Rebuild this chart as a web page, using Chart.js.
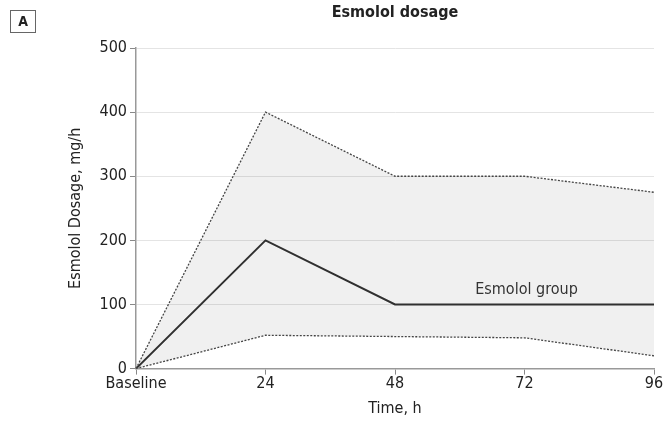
<!DOCTYPE html>
<html>
<head>
<meta charset="utf-8">
<script src="https://cdn.jsdelivr.net/npm/chart.js@4"></script>
<style>
  html, body { margin: 0; padding: 0; background: #fff; }
  #wrap { width: 665px; height: 431px; position: relative; }
</style>
</head>
<body>
<div id="wrap"><canvas id="myChart"></canvas></div>
<script>
var timeLabels = ["Baseline", "24", "48", "72", "96"];
var medianDose = [0, 200, 100, 100, 100];
var upperDose = [0, 400, 300, 300, 275];
var lowerDose = [0, 52, 50, 48, 20];
var yTicks = [0, 100, 200, 300, 400, 500];

var fontFam = "'Liberation Sans Narrow', 'DejaVu Sans Condensed', 'Roboto Condensed', sans-serif";

// panel letter, title over plot area, in-plot label
var extras = {
  id: 'extras',
  afterDraw: function(chart) {
    var ctx = chart.ctx;
    var area = chart.chartArea;
    ctx.save();
    ctx.strokeStyle = '#666';
    ctx.lineWidth = 1;
    ctx.strokeRect(10.5, 10.5, 25, 22);
    ctx.fillStyle = '#222';
    ctx.font = 'bold 14px ' + fontFam;
    ctx.textAlign = 'center';
    ctx.textBaseline = 'middle';
    ctx.fillText('A', 23, 22);

    ctx.font = 'bold 16px ' + fontFam;
    ctx.fillText('Esmolol dosage', (area.left + area.right) / 2, 13);

    var xs = chart.scales.x, ys = chart.scales.y;
    ctx.font = '16px ' + fontFam;
    ctx.fillStyle = '#333';
    ctx.fillText('Esmolol group', xs.getPixelForValue(3) + 2, ys.getPixelForValue(123));
    ctx.restore();
  }
};

var ctx = document.getElementById('myChart');
var myChart = new Chart(ctx, {
  type: 'line',
  data: {
    labels: timeLabels,
    datasets: [
      {
        label: 'Lower',
        data: lowerDose,
        borderColor: '#444',
        borderWidth: 1.3,
        borderDash: [2, 1.5],
        pointRadius: 0,
        fill: false
      },
      {
        label: 'Upper',
        data: upperDose,
        borderColor: '#444',
        borderWidth: 1.3,
        borderDash: [2, 1.5],
        pointRadius: 0,
        backgroundColor: 'rgba(0,0,0,0.06)',
        fill: 0
      },
      {
        label: 'Esmolol group',
        data: medianDose,
        borderColor: '#333',
        borderWidth: 2,
        pointRadius: 0,
        fill: false
      }
    ]
  },
  options: {
    responsive: true,
    maintainAspectRatio: false,
    animation: false,
    layout: { padding: { top: 48, right: 11, left: 62, bottom: 9 } },
    plugins: {
      legend: { display: false },
      tooltip: { enabled: false },
      title: { display: false }
    },
    scales: {
      x: {
        type: 'category',
        offset: false,
        grid: { display: true, drawOnChartArea: false, drawTicks: true, tickLength: 6, color: '#888' },
        border: { color: '#999', width: 1.5 },
        ticks: { color: '#222', font: { family: fontFam, size: 16 }, padding: 0, maxRotation: 0 },
        title: { display: true, text: 'Time, h', color: '#222', font: { family: fontFam, size: 16 }, padding: { top: 5 } }
      },
      y: {
        min: 0,
        max: 500,
        afterBuildTicks: function(scale) {
          scale.ticks = yTicks.map(function(v) { return { value: v }; });
        },
        afterFit: function(scale) { scale.width = 74; },
        grid: { color: '#e4e4e4', tickLength: 6, tickColor: '#888' },
        border: { color: '#999', width: 1.5 },
        ticks: { color: '#222', font: { family: fontFam, size: 16 }, padding: 3 },
        title: { display: true, text: 'Esmolol Dosage, mg/h', color: '#222', font: { family: fontFam, size: 16 }, padding: { bottom: 0 } }
      }
    }
  },
  plugins: [extras]
});
</script>
</body>
</html>
